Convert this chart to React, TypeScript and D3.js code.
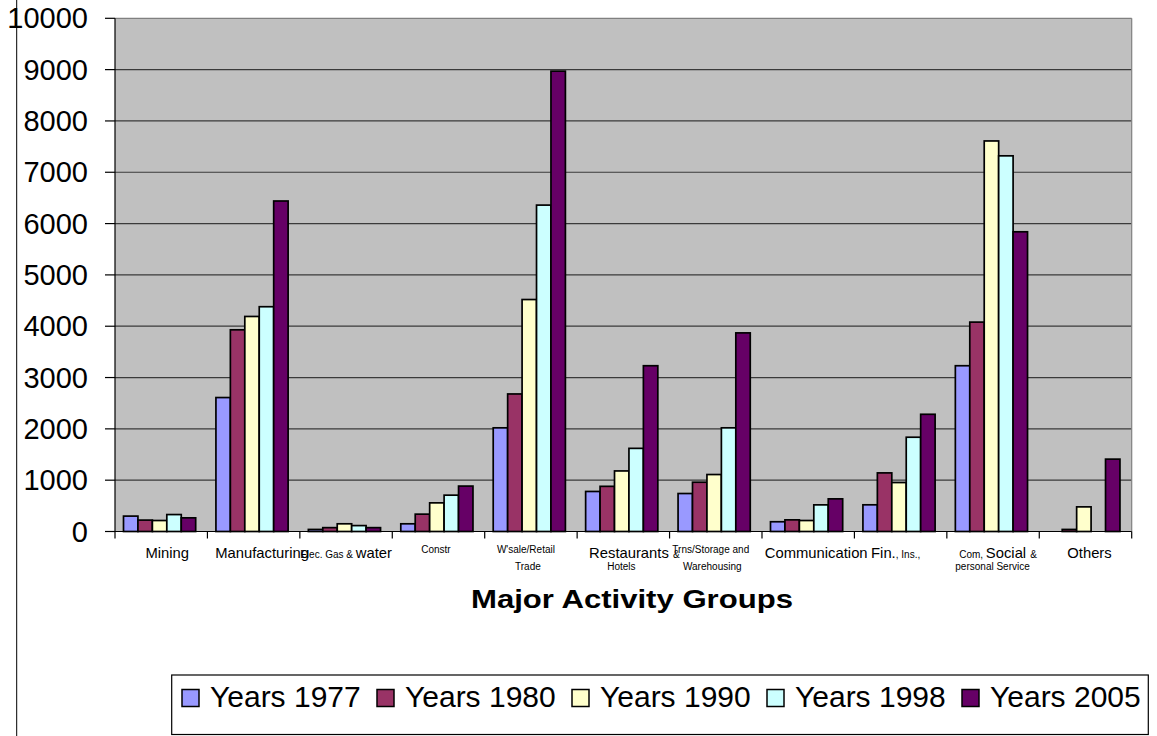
import React from "react";
import * as d3 from "d3";

// ---------- DATA ----------
const categories = [
  "Mining",
  "Manufacturing",
  "Elec. Gas & water",
  "Constr",
  "W'sale/Retail Trade",
  "Restaurants & Hotels",
  "Trns/Storage and Warehousing",
  "Communication",
  "Fin., Ins.,",
  "Com, Social & personal Service",
  "Others",
];

const seriesNames = ["Years 1977", "Years 1980", "Years 1990", "Years 1998", "Years 2005"];

const years1977 = [300, 2610, 40, 150, 2020, 780, 740, 190, 520, 3230, 0];
const years1980 = [222, 3930, 75, 338, 2680, 880, 960, 227, 1142, 4080, 40];
const years1990 = [214, 4190, 150, 558, 4520, 1180, 1110, 214, 954, 7610, 480];
const years1998 = [330, 4380, 115, 708, 6360, 1620, 2020, 519, 1837, 7320, 0];
const years2005 = [266, 6440, 75, 885, 8970, 3230, 3870, 636, 2284, 5840, 1410];

const seriesValues = [years1977, years1980, years1990, years1998, years2005];

const yTicks = [0, 1000, 2000, 3000, 4000, 5000, 6000, 7000, 8000, 9000, 10000];

// Category label rich text: lines of [text, size] segments (L = large, S = small)
const categoryLabelLines: [string, string][][][] = [
  [[["Mining", "L"]]],
  [[["Manufacturing", "L"]]],
  [[["Elec. Gas & ", "S"], ["water", "L"]]],
  [[["Constr", "S"]]],
  [[["W'sale/Retail", "S"]], [["Trade", "S"]]],
  [[["Restaurants ", "L"], ["&", "S"]], [["Hotels", "S"]]],
  [[["Trns/Storage and", "S"]], [["Warehousing", "S"]]],
  [[["Communication", "L"]]],
  [[["Fin.", "L"], [", Ins.,", "S"]]],
  [[["Com, ", "S"], ["Social ", "L"], ["&", "S"]], [["personal Service", "S"]]],
  [[["Others", "L"]]],
];

// ---------- STYLE / LAYOUT ----------
const colors = ["#9999FF", "#993366", "#FFFFCC", "#CCFFFF", "#660066"];
const labelDx = [[6], [8.5], [0], [-2.6], [-5, -3], [11, -2], [-5, -3.5], [8], [-5], [5, -0.5], [4]];
const FONT = "'Liberation Sans', Arial, sans-serif";

const W = 1157;
const H = 736;
const plot = { left: 115, right: 1131.7, top: 18.3, bottom: 531.5 };

export default function App() {
  const x = d3.scaleBand<string>().domain(categories).range([plot.left, plot.right]).paddingInner(0).paddingOuter(0);
  const bw = x.bandwidth();
  const inner = d3
    .scaleBand<string>()
    .domain(seriesNames)
    .range([bw * 0.092, bw * 0.873])
    .padding(0);
  const y = d3.scaleLinear().domain([0, 10000]).range([plot.bottom, plot.top]);

  const largeSize = 14.8;
  const smallSize = 10;

  return (
    <svg
      width={W}
      height={H}
      viewBox={`0 0 ${W} ${H}`}
      style={{ position: "absolute", left: 0, top: 0, background: "#fff" }}
      fontFamily={FONT}
    >
      <rect x={0} y={0} width={W} height={H} fill="#fff" />
      {/* outer chart border */}
      <line x1={16.7} x2={16.7} y1={0} y2={H} stroke="#000" strokeWidth={1} />

      {/* plot background */}
      <rect x={plot.left} y={plot.top} width={plot.right - plot.left} height={plot.bottom - plot.top} fill="#C0C0C0" />

      {/* gridlines */}
      {yTicks.slice(1, -1).map((t) => (
        <line key={t} x1={plot.left} x2={plot.right} y1={y(t)} y2={y(t)} stroke="#3a3a3a" strokeWidth={1.2} />
      ))}
      {/* plot border top/right */}
      <line x1={plot.left} x2={plot.right} y1={y(10000)} y2={y(10000)} stroke="#808080" strokeWidth={1.2} />
      <line x1={plot.right} x2={plot.right} y1={plot.top} y2={plot.bottom} stroke="#808080" strokeWidth={1.2} />

      {/* bars */}
      {seriesValues.map((vals, si) => (
        <g key={si}>
          {vals.map((v, ci) => {
            const x0 = (x(categories[ci]) as number) + (inner(seriesNames[si]) as number);
            const h = y(0) - y(v);
            if (v <= 0) return null;
            return (
              <rect
                key={ci}
                x={x0}
                y={y(v)}
                width={inner.bandwidth()}
                height={Math.max(h, 0.5)}
                fill={colors[si]}
                stroke="#000"
                strokeWidth={1.7}
              />
            );
          })}
        </g>
      ))}

      {/* axes */}
      <line x1={plot.left} x2={plot.left} y1={plot.top} y2={plot.bottom} stroke="#000" strokeWidth={1.2} />
      <line x1={plot.left - 1} x2={plot.right} y1={plot.bottom} y2={plot.bottom} stroke="#000" strokeWidth={1.2} />
      {yTicks.map((t) => (
        <g key={t}>
          <line x1={plot.left - 10} x2={plot.left} y1={y(t)} y2={y(t)} stroke="#000" strokeWidth={1.2} />
          <text x={88} y={y(t) + 10} textAnchor="end" fontSize={29} fill="#000">
            {t}
          </text>
        </g>
      ))}
      {categories.map((c) => (
        <line
          key={c}
          x1={x(c) as number}
          x2={x(c) as number}
          y1={plot.bottom}
          y2={plot.bottom + 7}
          stroke="#000"
          strokeWidth={1.2}
        />
      ))}
      <line x1={plot.right} x2={plot.right} y1={plot.bottom} y2={plot.bottom + 7} stroke="#000" strokeWidth={1.2} />

      {/* category labels */}
      {categoryLabelLines.map((lines, ci) => {
        const cx = (x(categories[ci]) as number) + bw / 2;
        return (
          <g key={ci}>
            {lines.map((segs, li) => {
              const hasLarge = segs.some((s) => s[1] === "L");
              const baseY = li === 0 ? (hasLarge ? 558.3 : 553.3) : 570;
              return (
                <text key={li} x={cx + (labelDx[ci][li] || 0)} y={baseY} textAnchor="middle" fill="#000">
                  {segs.map((s, k) => (
                    <tspan key={k} fontSize={s[1] === "L" ? largeSize : smallSize}>
                      {s[0]}
                    </tspan>
                  ))}
                </text>
              );
            })}
          </g>
        );
      })}

      {/* axis title */}
      <text
        x={632}
        y={608}
        textAnchor="middle"
        fontSize={26}
        fontWeight="bold"
        textLength={322}
        lengthAdjust="spacingAndGlyphs"
        fill="#000"
      >
        Major Activity Groups
      </text>

      {/* legend */}
      <rect x={171.7} y={675} width={1148.3 - 171.7} height={734.5 - 675} fill="#fff" stroke="#000" strokeWidth={1.2} />
      {seriesNames.map((n, i) => {
        const lx = 182 + i * 195;
        return (
          <g key={n}>
            <rect x={lx} y={689.5} width={17} height={17} fill={colors[i]} stroke="#000" strokeWidth={1.5} />
            <text x={lx + 28} y={706.7} fontSize={30} fill="#000">
              {n}
            </text>
          </g>
        );
      })}
    </svg>
  );
}
